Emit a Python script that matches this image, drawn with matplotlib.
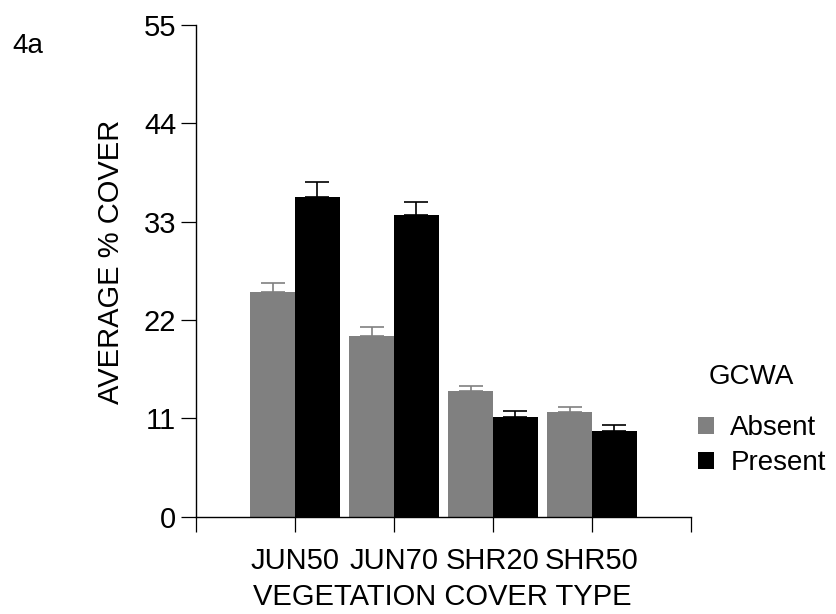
import matplotlib
matplotlib.use("Agg")
import matplotlib.pyplot as plt
import numpy as np

plt.rcParams['font.family'] = ['Liberation Sans', 'DejaVu Sans']

# mean % cover per vegetation class, with standard error (upper whisker only)
categories = ['JUN50', 'JUN70', 'SHR20', 'SHR50']
absent = [25.1, 20.2, 14.1, 11.7]
absent_err = [1.0, 1.0, 0.5, 0.55]
present = [35.8, 33.8, 11.2, 9.6]
present_err = [1.6, 1.45, 0.65, 0.65]
yticks = [0, 11, 22, 33, 44, 55]

fig = plt.figure(figsize=(8.37, 6.14), dpi=100)
ax = fig.add_axes([0.2342, 0.1585, 0.5914, 0.8008])

x = np.arange(1, len(categories) + 1)
w = 0.45
gray = '#808080'

ax.bar(x - w / 2, absent, w, color=gray, label='Absent', zorder=2)
ax.bar(x + w / 2, present, w, color='black', label='Present', zorder=2)
ax.errorbar(x - w / 2, absent, yerr=[np.zeros(len(x)), absent_err], fmt='none',
            ecolor=gray, elinewidth=1.2, capsize=8.5, capthick=1.2, zorder=3)
ax.errorbar(x + w / 2, present, yerr=[np.zeros(len(x)), present_err], fmt='none',
            ecolor='black', elinewidth=1.2, capsize=8.5, capthick=1.2, zorder=3)

ax.set_xlim(0, len(categories) + 1)
ax.set_ylim(0, 55)
ax.set_yticks(yticks)
ax.set_xticks(np.arange(0, len(categories) + 2))
ax.set_xticklabels([''] + categories + [''])

for side in ('top', 'right'):
    ax.spines[side].set_visible(False)
for side in ('left', 'bottom'):
    ax.spines[side].set_linewidth(1.0)

ax.tick_params(axis='y', direction='out', length=10.8, width=0.9, pad=3.5, labelsize=21)
ax.tick_params(axis='x', direction='out', length=10.8, width=0.9, pad=11, labelsize=21)

fig.text(111 / 837, 1 - 262 / 614, 'AVERAGE % COVER', rotation=90,
         ha='center', va='center', fontsize=21)
fig.text(442 / 837, 1 - 597 / 614, 'VEGETATION COVER TYPE',
         ha='center', va='center', fontsize=21)
fig.text(12 / 837, 1 - 46 / 614, '4a', ha='left', va='center', fontsize=20)

# legend entries with the group title set above them
fig.text(709 / 837, 1 - 377 / 614, 'GCWA', ha='left', va='center', fontsize=20)
leg = ax.legend(loc='upper left', bbox_to_anchor=(690 / 837, 1 - 407 / 614),
                bbox_transform=fig.transFigure, frameon=False, fontsize=20,
                handlelength=0.55, handleheight=0.55, handletextpad=0.6,
                labelspacing=0.32, borderaxespad=0, borderpad=0.3)

fig.savefig('out.png', dpi=100)
